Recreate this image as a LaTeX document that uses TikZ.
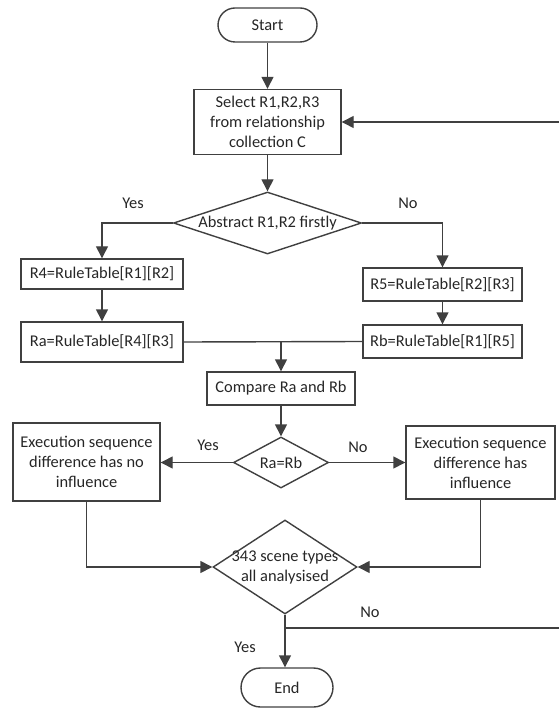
\documentclass[tikz,border=0pt]{standalone}
\usepackage{fontspec}
\setmainfont{Carlito}
\usetikzlibrary{shapes.geometric, arrows.meta}
\begin{document}
\begin{tikzpicture}[x=1pt,y=-1pt,
  font=\fontsize{16.4}{20}\selectfont,
  line/.style={draw=black!75, line width=1.4pt},
  arr/.style={line, -{Triangle[length=12pt,width=12pt]}},
  box/.style={draw=black!75, line width=1.4pt, rectangle, align=center, inner sep=2pt, text=black!85},
  term/.style={box, rounded corners=17pt},
  dia/.style={draw=black!75, line width=1.4pt, diamond, inner sep=0pt},
  lbl/.style={text=black!85, inner sep=1pt, align=center}]
\useasboundingbox (0,0) rectangle (558,708);

% nodes
\node[term, minimum width=99pt, minimum height=34pt] (start) at (267.5,25) {Start};
\node[box, minimum width=147pt, minimum height=65pt] (select) at (267.5,122) {Select R1,R2,R3\\from relationship\\collection C};
\node[dia, minimum width=188pt, minimum height=62pt] (d1) at (267.5,223) {};
\node[lbl] (d1t) at (d1.center) {Abstract R1,R2 firstly};
\node[box, minimum width=162pt, minimum height=30pt] (r4) at (102,274) {R4=RuleTable[R1][R2]};
\node[box, minimum width=162pt, minimum height=40pt] (ra) at (102,342) {Ra=RuleTable[R4][R3]};
\node[box, minimum width=159pt, minimum height=33pt] (r5) at (442.5,284.5) {R5=RuleTable[R2][R3]};
\node[box, minimum width=159pt, minimum height=33pt] (rb) at (442.5,341.5) {Rb=RuleTable[R1][R5]};
\node[box, minimum width=148pt, minimum height=33pt] (cmp) at (281,388.5) {Compare Ra and Rb};
\node[dia, minimum width=95pt, minimum height=51pt] (d2) at (281,462.5) {};
\node[lbl] (d2t) at (d2.center) {Ra=Rb};
\node[box, minimum width=147pt, minimum height=78pt] (exl) at (86.5,462) {Execution sequence\\difference has no\\influence};
\node[box, minimum width=149pt, minimum height=73pt] (exr) at (480.5,462.5) {Execution sequence\\difference has\\influence};
\node[dia, minimum width=144pt, minimum height=94pt] (d3) at (285,567) {};
\node[lbl] (d3t) at (d3.center) {343 scene types\\all analysised};
\node[box, rounded corners=19.5pt, minimum width=92pt, minimum height=39pt] (end) at (287,687.5) {End};

% labels
\node[lbl] (yes1) at (133,203) {Yes};
\node[lbl] (no1) at (408,203) {No};
\node[lbl] (yes2) at (208,445) {Yes};
\node[lbl] (no2) at (358,447) {No};
\node[lbl] (no3) at (370,612) {No};
\node[lbl] (yes3) at (245,647) {Yes};

% connectors
\draw[arr] (start) -- (select);
\draw[arr] (select) -- (d1);
\draw[arr] (d1.west) -| (r4.north);
\draw[arr] (d1.east) -| (r5.north);
\draw[arr] (r4) -- (ra);
\draw[arr] (r5) -- (rb);
\draw[line] (ra.east) -- (rb.west);
\coordinate (m) at (cmp.north |- ra.east);
\draw[arr] (m) -- (cmp.north);
\draw[arr] (cmp) -- (d2);
\draw[arr] (d2.west) -- (exl.east |- d2.west);
\draw[arr] (d2.east) -- (exr.west |- d2.east);
\draw[arr] (exl.south) |- (d3.west);
\draw[arr] (exr.south) |- (d3.east);
\draw[arr] (d3.south) -- (d3.south |- end.north);
\coordinate (j) at (285,628);
\coordinate (c1) at (562,628);
\coordinate (c2) at (562,122);
\draw[arr] (j) -- (c1) -- (c2) -- (select.east);
\end{tikzpicture}
\end{document}
